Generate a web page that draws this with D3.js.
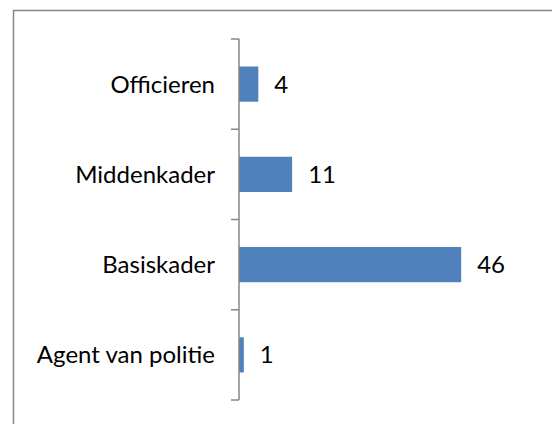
<!DOCTYPE html>
<html>
<head>
<meta charset="utf-8">
<script src="https://cdn.jsdelivr.net/npm/d3@7"></script>
<style>
  body { margin: 0; background: #fff; }
  svg text { font-family: Lato, "Open Sans", sans-serif; fill: #000; }
</style>
</head>
<body>
<svg id="chart" width="552" height="424"></svg>
<script>
// chart data
const categories = ["Officieren", "Middenkader", "Basiskader", "Agent van politie"];
const values = [4, 11, 46, 1];
const xMax = 50;

const svg = d3.select("#chart");
const width = +svg.attr("width");
const height = +svg.attr("height");

// outer chart frame (only top and left edges visible)
svg.append("path")
  .attr("d", `M13.5,${height} V10.5 H${width}`)
  .attr("fill", "none")
  .attr("stroke", "#868686")
  .attr("stroke-width", 1.5);

const plot = { left: 239, top: 39, bottom: 400 };

const y = d3.scaleBand()
  .domain(categories)
  .range([plot.top, plot.bottom])
  .paddingInner(0.61)
  .paddingOuter(0.305);

const x = d3.scaleLinear()
  .domain([0, xMax])
  .range([plot.left, plot.left + 241.5]);

// bars
svg.selectAll("rect.bar")
  .data(categories)
  .enter()
  .append("rect")
  .attr("class", "bar")
  .attr("x", x(0))
  .attr("y", d => y(d))
  .attr("width", (d, i) => x(values[i]) - x(0))
  .attr("height", y.bandwidth())
  .attr("fill", "#4f81bd");

// value labels
svg.selectAll("text.val")
  .data(categories)
  .enter()
  .append("text")
  .attr("class", "val")
  .attr("x", (d, i) => x(values[i]) + 16)
  .attr("y", d => y(d) + y.bandwidth() / 2)
  .attr("dy", "0.35em")
  .style("font-size", "24px")
  .text((d, i) => values[i]);

// category axis: line + ticks at band boundaries
const axis = svg.append("g").attr("stroke", "#868686").attr("stroke-width", 1.5);
axis.append("line")
  .attr("x1", plot.left).attr("x2", plot.left)
  .attr("y1", plot.top).attr("y2", plot.bottom);

const step = (plot.bottom - plot.top) / categories.length;
const tickYs = d3.range(categories.length + 1).map(i => plot.top + i * step);
axis.selectAll("line.tick")
  .data(tickYs)
  .enter()
  .append("line")
  .attr("class", "tick")
  .attr("x1", plot.left - 8).attr("x2", plot.left)
  .attr("y1", d => d).attr("y2", d => d);

// category labels
svg.selectAll("text.cat")
  .data(categories)
  .enter()
  .append("text")
  .attr("class", "cat")
  .attr("x", plot.left - 24)
  .attr("y", d => y(d) + y.bandwidth() / 2)
  .attr("dy", "0.35em")
  .attr("text-anchor", "end")
  .style("font-size", "24px")
  .text(d => d);
</script>
</body>
</html>
